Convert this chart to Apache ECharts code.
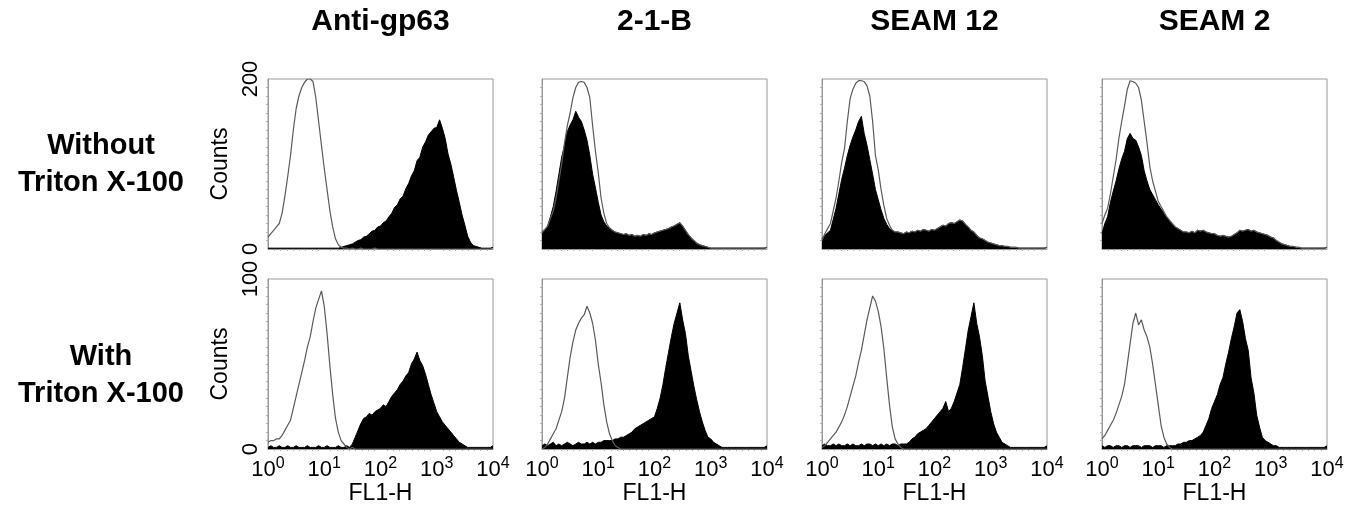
<!DOCTYPE html>
<html>
<head>
<meta charset="utf-8">
<script src="https://cdn.jsdelivr.net/npm/echarts@6/dist/echarts.min.js"></script>
<style>
html,body{margin:0;padding:0;background:#fff;}
#chart{width:1361px;height:506px;}
</style>
</head>
<body>
<div id="chart"></div>
<script>
// ---------- DATA ----------
// Column (antibody) and row (treatment) labels
const colNames = ['Anti-gp63', '2-1-B', 'SEAM 12', 'SEAM 2'];
const rowNames = ['Without\nTriton X-100', 'With\nTriton X-100'];
const yMaxByRow = [200, 100];
const xExponents = [0, 1, 2, 3, 4];      // tick labels 10^0 .. 10^4
const xAxisTitle = 'FL1-H';
const yAxisTitle = 'Counts';
// Histogram channels: 81 bins, 0.05 decade apart (log10 of FL1-H)
const channelDecades = [0,0.05,0.1,0.15,0.2,0.25,0.3,0.35,0.4,0.45,0.5,0.55,0.6,0.65,0.7,0.75,0.8,0.85,0.9,0.95,
1,1.05,1.1,1.15,1.2,1.25,1.3,1.35,1.4,1.45,1.5,1.55,1.6,1.65,1.7,1.75,1.8,1.85,1.9,1.95,
2,2.05,2.1,2.15,2.2,2.25,2.3,2.35,2.4,2.45,2.5,2.55,2.6,2.65,2.7,2.75,2.8,2.85,2.9,2.95,
3,3.05,3.1,3.15,3.2,3.25,3.3,3.35,3.4,3.45,3.5,3.55,3.6,3.65,3.7,3.75,3.8,3.85,3.9,3.95,4];

// Anti-gp63, without Triton
const antiWithoutOpen = [14,18,22,26,30,42,62,85,110,140,165,180,190,196,200,200,197,178,150,122,95,70,45,26,12,5,2,
1,1,0,1,0,0,1,0,0,0, 0,1,0,0,0,0,0,0,0,0, 0,0,0,0,0,0,0,0,0,0, 0,0,0,0,0,0,0,0,0,0, 0,0,0,0,0,0,0,0,0,0, 0,0,0,0];
const antiWithoutFilled = [1,1,1,1,1,1,1,1,1,1, 1,1,1,1,1,1,1,1,1,1, 1,1,1,1,1,1,
2,3,4,5,6,8,10,11,14,15, 18,21,22,26,27,31,33,38,42,49, 52,59,62,71,77,86,92,104,108,120,
126,134,138,142,143,152,142,130,112,100, 85,69,55,40,28,15,8,4,3,2, 1,1,1,1,2];
// Anti-gp63, with Triton
const antiWithOpen = [4,5,5,6,6,8,11,14,17,24, 31,38,45,52,60,66,75,83,88,93, 84,68,49,32,18,10,5,3,1,
0,1,0,0,0,0,0,0,0,0, 0,0,0,0,0,0,0,0,0,0, 0,0,0,0,0,0,0,0,0,0, 0,0,0,0,0,0,0,0,0,0, 0,0,0,0,0,0,0,0,0,0, 0,0];
const antiWithFilled = [1,2,1,1,2,1,1,2,1,1, 2,1,1,1,2,1,1,1,2,1, 1,2,1,1,1,2,1,1,2,1,
3,7,11,15,18,19,21,20,22,23, 24,26,25,28,31,33,35,38,40,43, 45,50,53,57,52,49,44,38,32,27,
22,19,16,14,12,10,8,6,4,3, 2,1,1,1,1,1,1,1,1,1, 2];

// 2-1-B, without Triton
const b21WithoutFilled = [18,22,27,38,50,68,88,108,122,138, 146,152,162,155,150,140,128,110,88,72,
55,40,32,27,25,22,20,19,18,17, 18,16,17,15,16,15,17,16,18,17, 19,20,21,22,23,24,26,27,29,31,
27,22,17,13,10,7,5,4,3,2, 1,1,1,1,1,1,1,1,1,1, 1,1,1,1,1,1,1,1,1,1,2];
const b21WithoutOpen = [20,23,27,36,45,60,80,100,125,145, 160,178,190,196,197,196,190,178,145,115, 90,60,42,30,25,
22,20,19,18,17, 18,16,17,15,16,15,17,16,18,17, 19,20,21,22,23,24,26,27,29,31, 27,22,17,13,10,7,5,4,3,2,
1,1,1,1,1,1,1,1,1,1, 1,1,1,1,1,1,1,1,1,1, 2];
// 2-1-B, with Triton
const b21WithOpen = [0,1,3,6,9,12,17,22,30,42, 54,63,70,74,77,79,84,80,74,64, 50,39,26,16,9,5,2,1,
0,0,0,0,0,0,0,0,0,0, 0,0,0,0,0,0,0,0,0,0, 0,0,0,0,0,0,0,0,0,0, 0,0,0,0,0,0,0,0,0,0, 0,0,0,0,0,0,0,0,0,0, 0,0,0];
const b21WithFilled = [2,3,2,3,4,2,3,2,3,4, 3,2,3,4,3,3,4,3,4,3, 4,4,5,5,5,5,6,6,7,7,
8,9,10,12,13,14,15,16,17,18, 19,24,30,38,48,57,66,74,80,86, 76,68,55,46,37,29,22,16,11,7,
6,4,3,2,1,1,1,1,1,1, 1,1,1,1,1,1,1,1,1,1,2];

// SEAM 12, without Triton
const s12WithoutFilled = [12,16,19,22,35,48,65,82,95,110, 122,132,140,150,156,136,122,105,88,70,
58,46,36,29,24,22,20,20,19,18, 20,19,21,20,22,21,23,22,21,23, 22,24,26,28,27,30,31,30,32,34,
33,29,26,22,20,16,13,12,10,8, 7,6,5,4,4,3,3,2,2,2, 1,1,1,1,1,1,1,1,1,1,2];
const s12WithoutOpen = [10,18,24,30,45,60,80,102,118,150, 177,188,195,198,198,197,192,180,150,110, 93,70,51,36,28,
22,20,20,19,18, 20,19,21,20,22,21,23,22,21,23, 22,24,26,28,27,30,31,30,32,34, 33,29,26,22,20,16,13,12,10,8,
7,6,5,4,4,3,3,2,2,2, 1,1,1,1,1,1,1,1,1,1,2];
// SEAM 12, with Triton
const s12WithOpen = [1,2,4,6,8,10,13,16,20,25, 31,37,43,51,58,67,76,83,90,87, 81,72,59,42,26,13,6,3,1,
0,0,0,0,0,0,0,0,0,0, 0,0,0,0,0,0,0,0,0,0, 0,0,0,0,0,0,0,0,0,0, 0,0,0,0,0,0,0,0,0,0, 0,0,0,0,0,0,0,0,0,0, 0,0];
const s12WithFilled = [2,3,2,2,3,2,3,2,2,3, 2,3,2,2,3,2,3,3,2,3, 2,3,2,3,2,3,3,2,3,3,
3,4,6,7,9,10,11,12,14,16, 18,20,22,24,28,22,24,28,33,38, 48,59,70,78,86,74,66,55,40,31,
22,15,10,7,4,3,2,1,1,1, 1,1,1,1,1,1,1,1,1,1,2];

// SEAM 2, without Triton
const s2WithoutFilled = [18,30,38,55,68,80,94,106,115,130, 136,130,128,120,110,92,80,70,64,58,
52,47,42,37,33,29,26,24,22,20, 20,19,21,19,22,21,22,20,19,18, 18,16,15,16,15,14,15,17,19,22,
21,22,23,21,22,20,19,18,17,16, 14,13,10,8,6,5,4,3,3,2, 2,1,1,1,1,1,1,1,1,1,2];
const s2WithoutOpen = [30,40,48,65,85,105,130,150,168,188, 198,197,195,190,175,150,125,97,80,68, 56,50,44,38,34,30,
26,24,22,20, 20,19,21,19,22,21,22,20,19,18, 18,16,15,16,15,14,15,17,19,22, 21,22,23,21,22,20,19,18,17,16,
14,13,10,8,6,5,4,3,3,2, 2,1,1,1,1,1,1,1,1,1,2];
// SEAM 2, with Triton
const s2WithOpen = [6,8,11,14,17,21,26,31,38,50, 62,74,80,73,76,70,66,60,50,38, 26,14,7,3,1,
0,0,0,0,0,0,0,0,0,0, 0,0,0,0,0,0,0,0,0,0, 0,0,0,0,0,0,0,0,0,0, 0,0,0,0,0,0,0,0,0,0, 0,0,0,0,0,0,0,0,0,0, 0,0,0,0,0,0];
const s2WithFilled = [2,1,2,2,1,2,2,1,2,2, 1,2,2,2,1,2,2,2,1,2, 2,2,1,2,2,2,2,3,3,4,
4,5,5,6,7,8,10,14,18,24, 28,32,38,42,50,57,65,72,80,82, 75,65,58,42,33,20,13,7,5,4,
3,2,2,1,1,1,1,1,1,1, 1,1,1,1,1,1,1,1,1,1,2];

// panels[row][col] = {open, filled}
const panels = [
  [ {open: antiWithoutOpen, filled: antiWithoutFilled},
    {open: b21WithoutOpen,  filled: b21WithoutFilled},
    {open: s12WithoutOpen,  filled: s12WithoutFilled},
    {open: s2WithoutOpen,   filled: s2WithoutFilled} ],
  [ {open: antiWithOpen, filled: antiWithFilled},
    {open: b21WithOpen,  filled: b21WithFilled},
    {open: s12WithOpen,  filled: s12WithFilled},
    {open: s2WithOpen,   filled: s2WithFilled} ]
];

// ---------- LAYOUT ----------
const FONT = '"Liberation Sans", Arial, Helvetica, sans-serif';
const gridLefts = [268, 542, 822, 1102];
const gridTops = [79, 279];
const gridHeights = [170, 171];
const gridWidth = 225;

const pairs = arr => arr.map((v, i) => [channelDecades[i], v]);

const grids = [], xAxes = [], yAxes = [], series = [], titles = [];
let gi = 0;
for (let r = 0; r < 2; r++) {
  for (let c = 0; c < 4; c++) {
    grids.push({left: gridLefts[c], top: gridTops[r], width: gridWidth, height: gridHeights[r],
      show: true, borderColor: '#9a9a9a', borderWidth: 1, backgroundColor: 'transparent'});
    const isBottom = r === 1;
    xAxes.push({
      gridIndex: gi, type: 'value', min: xExponents[0], max: xExponents[xExponents.length - 1], interval: 1,
      axisLine: {show: true, lineStyle: {color: '#9a9a9a', width: 1}},
      axisTick: {show: false},
      minorTick: {show: true, splitNumber: 9, length: 2, lineStyle: {color: '#b0b0b0'}},
      splitLine: {show: false},
      axisLabel: isBottom ? {
        show: true, margin: 6,
        formatter: v => '{b|10}{s|' + v + '}',
        rich: {
          b: {fontSize: 22, color: '#000', fontFamily: FONT},
          s: {fontSize: 16, color: '#000', fontFamily: FONT, padding: [0, 0, 14, 0]}
        }
      } : {show: false},
      name: isBottom ? xAxisTitle : '', nameLocation: 'middle', nameGap: 32,
      nameTextStyle: {fontSize: 23, color: '#000', fontFamily: FONT}
    });
    yAxes.push({
      gridIndex: gi, type: 'value', min: 0, max: yMaxByRow[r], interval: yMaxByRow[r],
      axisLine: {show: true, lineStyle: {color: '#9a9a9a', width: 1}},
      axisTick: {show: false},
      minorTick: {show: true, splitNumber: 20, length: 2, lineStyle: {color: '#b0b0b0'}},
      splitLine: {show: false},
      axisLabel: c === 0 ? {show: true, rotate: 90, margin: 6, fontSize: 22, color: '#000', fontFamily: FONT} : {show: false},
      name: c === 0 ? yAxisTitle : '', nameLocation: 'middle', nameRotate: 90, nameGap: 36,
      nameTextStyle: {fontSize: 23, color: '#000', fontFamily: FONT}
    });
    const p = panels[r][c];
    series.push({
      type: 'line', xAxisIndex: gi, yAxisIndex: gi, data: pairs(p.filled), symbol: 'none',
      lineStyle: {color: '#000', width: 1}, areaStyle: {color: '#000', opacity: 1}, z: 2, silent: true
    });
    series.push({
      type: 'line', xAxisIndex: gi, yAxisIndex: gi, data: pairs(p.open), symbol: 'none',
      lineStyle: {color: '#5a5a5a', width: 1.2}, z: 3, silent: true
    });
    gi++;
  }
}

for (let c = 0; c < 4; c++) {
  titles.push({text: colNames[c], left: gridLefts[c] + gridWidth / 2, top: 7, textAlign: 'center', padding: 0,
    textStyle: {fontSize: 30, fontWeight: 'bold', color: '#000', fontFamily: FONT}});
}
const rowTitleTops = [127, 338];
for (let r = 0; r < 2; r++) {
  titles.push({text: rowNames[r], left: 101, top: rowTitleTops[r], textAlign: 'center', padding: 0,
    textStyle: {fontSize: 29, fontWeight: 'bold', color: '#000', fontFamily: FONT, lineHeight: 37, align: 'center'}});
}

const chart = echarts.init(document.getElementById('chart'), null, {renderer: 'canvas'});
chart.setOption({
  animation: false,
  backgroundColor: '#fff',
  title: titles,
  grid: grids,
  xAxis: xAxes,
  yAxis: yAxes,
  series: series
});
</script>
</body>
</html>
